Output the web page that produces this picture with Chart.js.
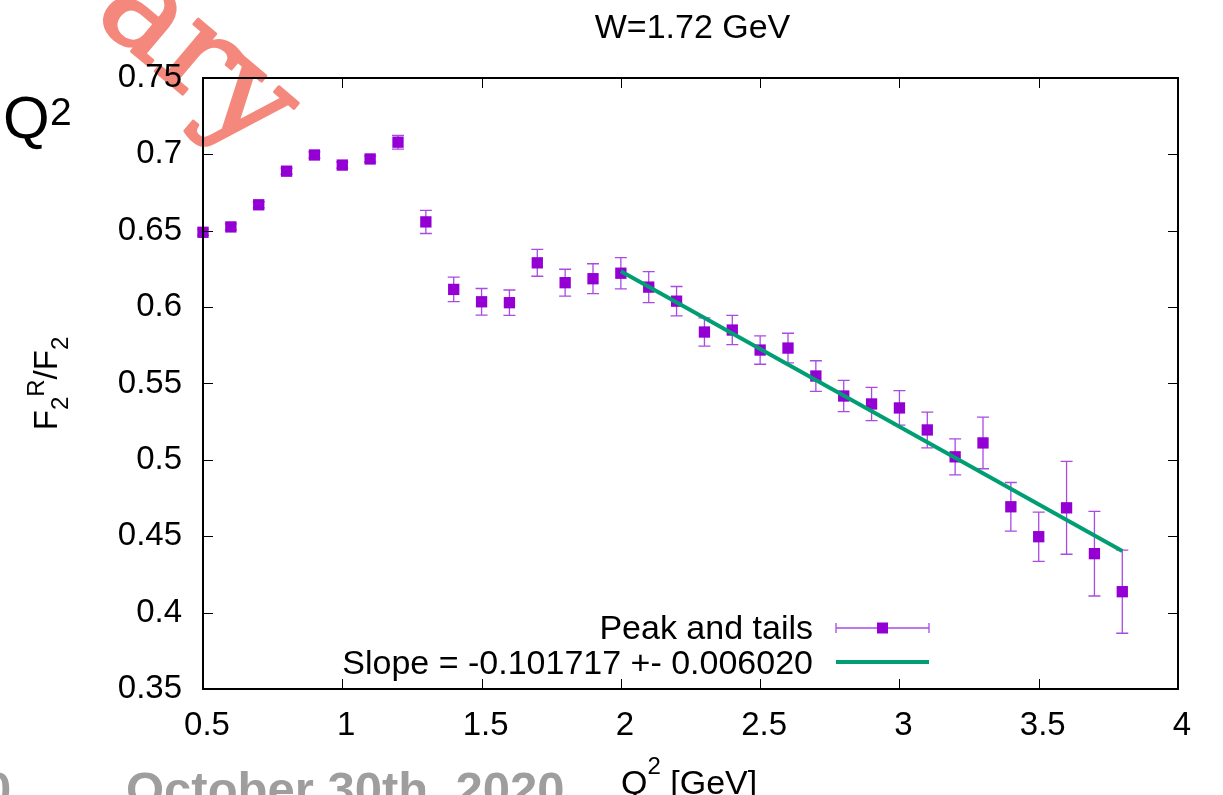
<!DOCTYPE html>
<html lang="en">
  <head>
    <meta charset="UTF-8" />
    <title>F2R/F2 vs Q2, W=1.72 GeV</title>
    <script src="https://cdn.jsdelivr.net/npm/chart.js"></script>
    <style>
      body { margin: 0; background: #fff; }
      #wrap { width: 1223px; height: 795px; }
    </style>
  </head>
  <body>
    <div id="wrap"><canvas id="ratioChart" width="1223" height="795"></canvas></div>
    <script>
      // values
      const q2 = [0.5, 0.6, 0.7, 0.8, 0.9, 1.0, 1.1, 1.2, 1.3, 1.4, 1.5, 1.6, 1.7, 1.8, 1.9,
        2.0, 2.1, 2.2, 2.3, 2.4, 2.5, 2.6, 2.7, 2.8, 2.9, 3.0, 3.1, 3.2, 3.3, 3.4, 3.5, 3.6, 3.7, 3.8];
      const ratio = [0.649, 0.6525, 0.667, 0.689, 0.6996, 0.693, 0.697, 0.708, 0.6558, 0.6116,
        0.6035, 0.6029, 0.629, 0.616, 0.6186, 0.6222, 0.6131, 0.6039, 0.5837, 0.585, 0.5719,
        0.5732, 0.5549, 0.5418, 0.5366, 0.534, 0.5196, 0.502, 0.5111, 0.4693, 0.4497, 0.4686,
        0.4386, 0.4137];
      const ratioErr = [0.002, 0.002, 0.002, 0.002, 0.002, 0.002, 0.002, 0.0045, 0.0076, 0.008,
        0.0087, 0.0083, 0.0088, 0.0088, 0.0098, 0.0102, 0.0101, 0.0096, 0.0092, 0.0096, 0.0093,
        0.0097, 0.01, 0.0102, 0.0109, 0.0113, 0.0117, 0.0118, 0.0169, 0.0159, 0.0161, 0.0304,
        0.0277, 0.0272];
      const fitQ2 = [2.0, 3.8];
      const fitRatio = [0.6235, 0.4404];
      const xTicks = [0.5, 1, 1.5, 2, 2.5, 3, 3.5, 4];
      const yTicks = [0.35, 0.4, 0.45, 0.5, 0.55, 0.6, 0.65, 0.7, 0.75];
      const titleText = "W=1.72 GeV";
      const seriesLabel = "Peak and tails";
      const fitLabel = "Slope = -0.101717 +- 0.006020";

      const FONT = "'Liberation Sans', Arial, Helvetica, sans-serif";
      const VIOLET = "#9400d3";
      const BAR = "#a94be3";
      const GREEN = "#009e73";

      function drawPieces(ctx, pieces, x, y) {
        // pieces: [text, size, baseline shift]
        let cx = x;
        pieces.forEach(([t, size, dy]) => {
          ctx.font = size + "px " + FONT;
          ctx.fillText(t, cx, y + dy);
          cx += ctx.measureText(t).width;
        });
      }
      function piecesWidth(ctx, pieces) {
        let w = 0;
        pieces.forEach(([t, size]) => {
          ctx.font = size + "px " + FONT;
          w += ctx.measureText(t).width;
        });
        return w;
      }

      // slide leftovers behind the plot
      const slideBits = {
        id: "slideBits",
        beforeDraw(chart) {
          const ctx = chart.ctx;
          ctx.save();
          ctx.fillStyle = "#fff";
          ctx.fillRect(0, 0, chart.width, chart.height);

          ctx.save();
          ctx.translate(92, 18);
          ctx.rotate((40 * Math.PI) / 180);
          ctx.fillStyle = "#f4887c";
          ctx.strokeStyle = "#f4887c";
          ctx.lineWidth = 3;
          ctx.lineJoin = "round";
          ctx.font = "130px 'DejaVu Serif', serif";
          ctx.fillText("ary", 0, 0);
          ctx.strokeText("ary", 0, 0);
          ctx.restore();

          ctx.fillStyle = "#000";
          ctx.textAlign = "left";
          ctx.textBaseline = "alphabetic";
          ctx.font = "60px " + FONT;
          ctx.fillText("Q", 3, 138);
          ctx.font = "39px " + FONT;
          ctx.fillText("2", 50, 125);

          ctx.fillStyle = "#9e9e9e";
          ctx.font = "bold 49px " + FONT;
          ctx.fillText("0", -16, 806);
          ctx.fillText("October 30th, 2020", 126, 806);
          ctx.restore();
        },
      };

      const errorBars = {
        id: "errorBars",
        beforeDatasetsDraw(chart) {
          const { ctx, scales: { x, y } } = chart;
          ctx.save();
          ctx.strokeStyle = BAR;
          ctx.lineWidth = 1.3;
          q2.forEach((q, i) => {
            const px = x.getPixelForValue(q);
            const top = y.getPixelForValue(ratio[i] + ratioErr[i]);
            const bot = y.getPixelForValue(ratio[i] - ratioErr[i]);
            ctx.beginPath();
            ctx.moveTo(px, top);
            ctx.lineTo(px, bot);
            ctx.moveTo(px - 6, top);
            ctx.lineTo(px + 6, top);
            ctx.moveTo(px - 6, bot);
            ctx.lineTo(px + 6, bot);
            ctx.stroke();
          });
          ctx.restore();
        },
      };

      const frameAndText = {
        id: "frameAndText",
        afterDraw(chart) {
          const { ctx, chartArea: a, scales: { x, y } } = chart;
          ctx.save();
          // inward ticks on all sides
          ctx.strokeStyle = "#000";
          ctx.lineWidth = 1;
          ctx.beginPath();
          xTicks.forEach((v) => {
            const px = Math.round(x.getPixelForValue(v)) + 0.5;
            ctx.moveTo(px, a.bottom);
            ctx.lineTo(px, a.bottom - 10);
            ctx.moveTo(px, a.top);
            ctx.lineTo(px, a.top + 10);
          });
          yTicks.forEach((v) => {
            const py = Math.round(y.getPixelForValue(v)) + 0.5;
            ctx.moveTo(a.left, py);
            ctx.lineTo(a.left + 10, py);
            ctx.moveTo(a.right, py);
            ctx.lineTo(a.right - 10, py);
          });
          ctx.stroke();
          ctx.lineWidth = 2;
          ctx.strokeRect(a.left, a.top, a.right - a.left, a.bottom - a.top);

          // title
          ctx.fillStyle = "#000";
          ctx.textAlign = "center";
          ctx.textBaseline = "alphabetic";
          ctx.font = "34px " + FONT;
          ctx.fillText(titleText, (a.left + a.right) / 2 + 2, 38);

          // x axis label
          ctx.textAlign = "left";
          drawPieces(ctx, [["Q", 34, 0], ["2", 24, -20], [" [GeV]", 34, 0]], 621, 794);

          // y axis label
          const yl = [["F", 33, 0], ["2", 24, 11], ["R", 24, -13], ["/F", 33, 0], ["2", 24, 11]];
          ctx.save();
          ctx.translate(57, (a.top + a.bottom) / 2);
          ctx.rotate(-Math.PI / 2);
          drawPieces(ctx, yl, -piecesWidth(ctx, yl) / 2, 0);
          ctx.restore();

          // key
          const kx = a.left + 610;
          const r1 = a.bottom - 61;
          const r2 = a.bottom - 27;
          ctx.font = "34px " + FONT;
          ctx.textAlign = "right";
          ctx.fillText(seriesLabel, kx, r1 + 11);
          ctx.fillText(fitLabel, kx, r2 + 12);
          const s0 = kx + 23;
          const s1 = kx + 116;
          ctx.strokeStyle = BAR;
          ctx.lineWidth = 1.3;
          ctx.beginPath();
          ctx.moveTo(s0, r1);
          ctx.lineTo(s1, r1);
          ctx.moveTo(s0, r1 - 5);
          ctx.lineTo(s0, r1 + 5);
          ctx.moveTo(s1, r1 - 5);
          ctx.lineTo(s1, r1 + 5);
          ctx.stroke();
          ctx.fillStyle = VIOLET;
          ctx.fillRect((s0 + s1) / 2 - 5.5, r1 - 5.5, 11, 11);
          ctx.strokeStyle = GREEN;
          ctx.lineWidth = 4;
          ctx.beginPath();
          ctx.moveTo(s0, r2);
          ctx.lineTo(s1, r2);
          ctx.stroke();
          ctx.restore();
        },
      };

      const ctx = document.getElementById("ratioChart").getContext("2d");
      const chart = new Chart(ctx, {
        type: "scatter",
        data: {
          datasets: [
            {
              label: fitLabel,
              data: fitQ2.map((q, i) => ({ x: q, y: fitRatio[i] })),
              showLine: true,
              borderColor: GREEN,
              borderWidth: 4,
              pointRadius: 0,
              order: 0,
            },
            {
              label: seriesLabel,
              data: q2.map((q, i) => ({ x: q, y: ratio[i] })),
              backgroundColor: VIOLET,
              pointStyle: "rect",
              pointRadius: 8,
              pointBorderWidth: 0,
              borderWidth: 0,
              clip: false,
              order: 1,
            },
          ],
        },
        options: {
          responsive: false,
          animation: false,
          layout: { padding: { top: 78, right: 45, left: 0, bottom: 0 } },
          plugins: {
            legend: { display: false },
            tooltip: { enabled: false },
          },
          scales: {
            x: {
              type: "linear",
              min: 0.5,
              max: 4,
              afterBuildTicks: (s) => { s.ticks = xTicks.map((v) => ({ value: v })); },
              afterFit: (s) => { s.height = 106; },
              grid: { display: false, drawTicks: false },
              border: { display: false },
              ticks: {
                color: "#000",
                font: { family: FONT, size: 33 },
                padding: 17,
                labelOffset: 4,
                maxRotation: 0,
                callback: (v) => String(v),
              },
            },
            y: {
              type: "linear",
              min: 0.35,
              max: 0.75,
              afterBuildTicks: (s) => { s.ticks = yTicks.map((v) => ({ value: v })); },
              afterFit: (s) => { s.width = 203; },
              grid: { display: false, drawTicks: false },
              border: { display: false },
              ticks: {
                color: "#000",
                font: { family: FONT, size: 33 },
                padding: 21,
                callback: (v) => String(Math.round(v * 100) / 100),
              },
            },
          },
        },
        plugins: [slideBits, errorBars, frameAndText],
      });
    </script>
  </body>
</html>
